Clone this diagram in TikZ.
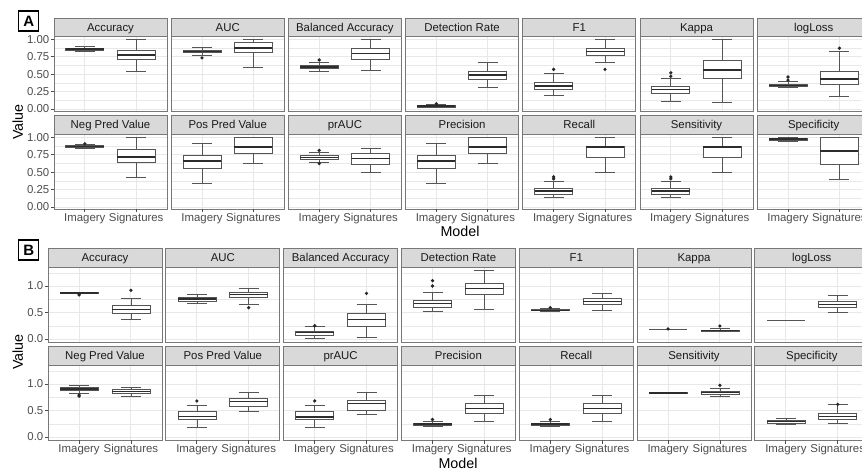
\documentclass[tikz,border=0pt]{standalone}
\usepackage{fontspec}
\setmainfont{Liberation Sans}
\definecolor{bxc}{RGB}{85,85,85}
\definecolor{medc}{RGB}{45,45,45}
\definecolor{gridc}{RGB}{232,232,232}
\definecolor{brd}{RGB}{120,120,120}
\definecolor{stripc}{RGB}{217,217,217}
\definecolor{tickc}{RGB}{77,77,77}
\definecolor{txtdark}{RGB}{26,26,26}
\tikzset{
  wsk/.style={draw=bxc, line width=0.8pt},
  bxs/.style={draw=bxc, fill=white, line width=0.8pt},
  medl/.style={draw=medc, line width=1.6pt},
  olc/.style={fill=black!85},
  gmaj/.style={draw=gridc, line width=0.9pt},
  gmin/.style={draw=gridc, line width=0.45pt},
  pborder/.style={draw=brd, line width=0.9pt},
  stripbox/.style={fill=stripc, draw=brd, line width=0.9pt},
  striptxt/.style={font=\fontsize{11.4}{13}\selectfont, text=txtdark, inner sep=0pt, anchor=base},
  ticktxt/.style={font=\fontsize{11.4}{13}\selectfont, text=tickc, inner sep=0pt},
  tickmark/.style={draw=tickc, line width=0.8pt},
  axtitle/.style={font=\fontsize{14.3}{16}\selectfont, text=black, inner sep=0pt, anchor=base},
  lblbox/.style={draw=black, line width=1.2pt, minimum size=20pt, inner sep=0pt, font=\bfseries\fontsize{15}{16}\selectfont}
}
\newcommand\ZZ{0}
\newcommand\SC{1}
\newcommand\setrow[2]{\renewcommand\ZZ{#1}\renewcommand\SC{#2}}
\newcommand\curmaj{0}
\newcommand\curmin{0}
\newcommand\CWd{10}
\newcommand\BWd{19}
% boxplot: cx, lower whisker, q1, median, q3, upper whisker
\newcommand\BXP[6]{%
  \draw[wsk] (#1,{\ZZ-\SC*#2}) -- (#1,{\ZZ-\SC*#3});
  \draw[wsk] (#1,{\ZZ-\SC*#5}) -- (#1,{\ZZ-\SC*#6});
  \draw[wsk] ({#1-\CWd},{\ZZ-\SC*#2}) -- ({#1+\CWd},{\ZZ-\SC*#2});
  \draw[wsk] ({#1-\CWd},{\ZZ-\SC*#6}) -- ({#1+\CWd},{\ZZ-\SC*#6});
  \draw[bxs] ({#1-\BWd},{\ZZ-\SC*#3}) rectangle ({#1+\BWd},{\ZZ-\SC*#5});
  \draw[medl] ({#1-\BWd},{\ZZ-\SC*#4}) -- ({#1+\BWd},{\ZZ-\SC*#4});
}
\newcommand\OLP[2]{\fill[olc] (#1,{\ZZ-\SC*#2}) circle (1.8pt);}
\newcommand\FLATB[2]{\draw[wsk] ({#1-\BWd},{\ZZ-\SC*#2}) -- ({#1+\BWd},{\ZZ-\SC*#2});}
% panel: L, w, stripTop, bodyTop, bodyBot, title, name
\newcommand\PNL[7]{%
  \fill[white] (#1,#4) rectangle ({#1+#2},#5);
  \foreach \v in \curmin {\draw[gmin] (#1,{\ZZ-\SC*\v}) -- ({#1+#2},{\ZZ-\SC*\v});}
  \foreach \v in \curmaj {\draw[gmaj] (#1,{\ZZ-\SC*\v}) -- ({#1+#2},{\ZZ-\SC*\v});}
  \draw[gmaj] ({#1+0.2727*#2},#4) -- ({#1+0.2727*#2},#5);
  \draw[gmaj] ({#1+0.7273*#2},#4) -- ({#1+0.7273*#2},#5);
  \draw[stripbox] (#1,#3) rectangle ({#1+#2},#4);
  \node[striptxt] (#7) at ({#1+#2/2},{(#3+#4)/2+4.2}) {#6};
}
\begin{document}
\begin{tikzpicture}[x=1pt,y=-1pt]
\useasboundingbox (0,0) rectangle (862,470);
\clip (0,0) rectangle (862,470);
\fill[white] (0,0) rectangle (862,470);

% ================= PANEL A =================
\node[lblbox] (labA) at (28.8,21) {A};
\renewcommand\curmaj{0,0.25,0.5,0.75,1}
\renewcommand\curmin{0.125,0.375,0.625,0.875}
% row 1
\setrow{109}{69.5}
\foreach \t [count=\i from 0] in {Accuracy,AUC,Balanced Accuracy,Detection Rate,F1,Kappa,logLoss}{
  \pgfmathsetmacro\LL{54+117.2*\i}
  \PNL{\LL}{113}{18}{36}{111}{\t}{sa1-\i}
}
\BXP{84.8}{0.83}{0.84}{0.86}{0.875}{0.90}
\BXP{136.2}{0.546}{0.707}{0.78}{0.846}{1.0}
\BXP{202}{0.768}{0.81}{0.826}{0.845}{0.89} \OLP{202}{0.735}
\BXP{253.4}{0.60}{0.81}{0.88}{0.952}{1.0}
\BXP{319.2}{0.546}{0.585}{0.605}{0.623}{0.67} \OLP{319.2}{0.705}
\BXP{370.6}{0.556}{0.72}{0.797}{0.875}{1.0}
\BXP{436.4}{0.025}{0.03}{0.04}{0.05}{0.068} \OLP{436.4}{0.075}
\BXP{487.8}{0.31}{0.43}{0.49}{0.546}{0.667}
\BXP{553.6}{0.19}{0.287}{0.333}{0.38}{0.507} \OLP{553.6}{0.57}
\BXP{605}{0.672}{0.768}{0.826}{0.875}{1.0} \OLP{605}{0.57}
\BXP{670.8}{0.116}{0.23}{0.28}{0.33}{0.445} \OLP{670.8}{0.47} \OLP{670.8}{0.52}
\BXP{722.2}{0.093}{0.44}{0.56}{0.70}{1.0}
\BXP{788}{0.305}{0.32}{0.34}{0.36}{0.40} \OLP{788}{0.415} \OLP{788}{0.46}
\BXP{839.4}{0.18}{0.355}{0.435}{0.546}{0.826} \OLP{839.4}{0.875}
\foreach \i in {0,...,6}{
  \pgfmathsetmacro\LL{54+117.2*\i}
  \draw[pborder] (\LL,36) rectangle ({\LL+113},111);
}
\foreach \v/\lab [count=\k] in {0/0.00,0.25/0.25,0.5/0.50,0.75/0.75,1/1.00}{
  \draw[tickmark] (50.5,{\ZZ-\SC*\v}) -- (54,{\ZZ-\SC*\v});
  \node[ticktxt, anchor=east] (ya1-\k) at (49.5,{\ZZ-\SC*\v}) {\lab};
}
% row 2
\setrow{207}{69.5}
\foreach \t [count=\i from 0] in {Neg Pred Value,Pos Pred Value,prAUC,Precision,Recall,Sensitivity,Specificity}{
  \pgfmathsetmacro\LL{54+117.2*\i}
  \PNL{\LL}{113}{115}{134}{209}{\t}{sa2-\i}
}
\BXP{84.8}{0.85}{0.857}{0.87}{0.88}{0.895} \OLP{84.8}{0.91}
\BXP{136.2}{0.433}{0.64}{0.72}{0.824}{1.0}
\BXP{202}{0.338}{0.562}{0.662}{0.743}{0.914}
\BXP{253.4}{0.624}{0.776}{0.862}{1.0}{1.0}
\BXP{319.2}{0.648}{0.686}{0.714}{0.743}{0.786} \OLP{319.2}{0.624} \OLP{319.2}{0.814}
\BXP{370.6}{0.495}{0.614}{0.695}{0.77}{0.838}
\BXP{436.4}{0.338}{0.562}{0.662}{0.743}{0.914}
\BXP{487.8}{0.624}{0.776}{0.862}{1.0}{1.0}
\BXP{553.6}{0.133}{0.18}{0.229}{0.262}{0.367} \OLP{553.6}{0.405} \OLP{553.6}{0.433}
\BXP{605}{0.505}{0.72}{0.862}{0.871}{1.0}
\BXP{670.8}{0.133}{0.18}{0.229}{0.262}{0.367} \OLP{670.8}{0.405} \OLP{670.8}{0.433}
\BXP{722.2}{0.505}{0.72}{0.862}{0.871}{1.0}
\BXP{788}{0.95}{0.957}{0.976}{0.986}{1.0}
\BXP{839.4}{0.40}{0.61}{0.81}{1.0}{1.0}
\foreach \i in {0,...,6}{
  \pgfmathsetmacro\LL{54+117.2*\i}
  \draw[pborder] (\LL,134) rectangle ({\LL+113},209);
  \pgfmathsetmacro\CI{\LL+0.2727*113}
  \pgfmathsetmacro\CS{\LL+0.7273*113}
  \draw[tickmark] (\CI,209) -- (\CI,212.5);
  \draw[tickmark] (\CS,209) -- (\CS,212.5);
  \node[ticktxt, anchor=base] (xa-\i-i) at (\CI,222) {Imagery};
  \node[ticktxt, anchor=base] (xa-\i-s) at (\CS,222) {Signatures};
}
\foreach \v/\lab [count=\k] in {0/0.00,0.25/0.25,0.5/0.50,0.75/0.75,1/1.00}{
  \draw[tickmark] (50.5,{\ZZ-\SC*\v}) -- (54,{\ZZ-\SC*\v});
  \node[ticktxt, anchor=east] (ya2-\k) at (49.5,{\ZZ-\SC*\v}) {\lab};
}
\node[axtitle] (modelA) at (460,236.5) {Model};
\node[axtitle, rotate=90] (valueA) at (23,122) {Value};

% ================= PANEL B =================
\node[lblbox] (labB) at (28.8,250) {B};
\renewcommand\curmaj{0,0.5,1}
\renewcommand\curmin{0.25,0.75,1.25}
% row 1
\setrow{339}{53}
\foreach \t [count=\i from 0] in {Accuracy,AUC,Balanced Accuracy,Detection Rate,F1,Kappa,logLoss}{
  \pgfmathsetmacro\LL{48+117.8*\i}
  \PNL{\LL}{114}{248}{267}{342}{\t}{sb1-\i}
}
\BXP{79.1}{0.855}{0.86}{0.87}{0.878}{0.885} \OLP{79.1}{0.83} \OLP{79.1}{0.845}
\BXP{130.9}{0.37}{0.484}{0.553}{0.64}{0.767} \OLP{130.9}{0.918}
\BXP{196.9}{0.67}{0.717}{0.755}{0.79}{0.85}
\BXP{248.7}{0.66}{0.78}{0.836}{0.88}{0.956} \OLP{248.7}{0.59}
\BXP{314.7}{0.013}{0.075}{0.12}{0.15}{0.23} \OLP{314.7}{0.25}
\BXP{366.5}{0.025}{0.24}{0.37}{0.48}{0.655} \OLP{366.5}{0.86}
\BXP{432.5}{0.52}{0.60}{0.67}{0.73}{0.88} \OLP{432.5}{1.0} \OLP{432.5}{1.1}
\BXP{484.3}{0.56}{0.84}{0.955}{1.05}{1.295}
\BXP{550.3}{0.53}{0.535}{0.54}{0.55}{0.57} \OLP{550.3}{0.59}
\BXP{602.1}{0.547}{0.655}{0.71}{0.767}{0.86}
\FLATB{668.1}{0.19} \OLP{668.1}{0.19}
\BXP{719.9}{0.14}{0.148}{0.157}{0.165}{0.2} \OLP{719.9}{0.245}
\FLATB{785.9}{0.345}
\BXP{837.7}{0.50}{0.60}{0.65}{0.70}{0.82}
\foreach \i in {0,...,6}{
  \pgfmathsetmacro\LL{48+117.8*\i}
  \draw[pborder] (\LL,267) rectangle ({\LL+114},342);
}
\foreach \v/\lab [count=\k] in {0/0.0,0.5/0.5,1/1.0}{
  \draw[tickmark] (44.5,{\ZZ-\SC*\v}) -- (48,{\ZZ-\SC*\v});
  \node[ticktxt, anchor=east] (yb1-\k) at (43.5,{\ZZ-\SC*\v}) {\lab};
}
% row 2
\setrow{437}{53}
\foreach \t [count=\i from 0] in {Neg Pred Value,Pos Pred Value,prAUC,Precision,Recall,Sensitivity,Specificity}{
  \pgfmathsetmacro\LL{48+117.8*\i}
  \PNL{\LL}{114}{346}{365}{440}{\t}{sb2-\i}
}
\BXP{79.1}{0.83}{0.88}{0.905}{0.93}{0.975} \OLP{79.1}{0.77} \OLP{79.1}{0.79}
\BXP{130.9}{0.775}{0.83}{0.855}{0.89}{0.93}
\BXP{196.9}{0.175}{0.34}{0.39}{0.477}{0.60} \OLP{196.9}{0.68}
\BXP{248.7}{0.485}{0.58}{0.667}{0.72}{0.84}
\BXP{314.7}{0.175}{0.34}{0.377}{0.477}{0.60} \OLP{314.7}{0.68}
\BXP{366.5}{0.43}{0.51}{0.635}{0.69}{0.84}
\BXP{432.5}{0.195}{0.214}{0.24}{0.264}{0.30} \OLP{432.5}{0.33}
\BXP{484.3}{0.29}{0.453}{0.54}{0.64}{0.79}
\BXP{550.3}{0.195}{0.214}{0.24}{0.264}{0.30} \OLP{550.3}{0.33}
\BXP{602.1}{0.29}{0.453}{0.54}{0.64}{0.79}
\BXP{668.1}{0.815}{0.825}{0.83}{0.835}{0.845}
\BXP{719.9}{0.775}{0.805}{0.843}{0.868}{0.92} \OLP{719.9}{0.975}
\BXP{785.9}{0.24}{0.264}{0.29}{0.315}{0.35}
\BXP{837.7}{0.264}{0.333}{0.39}{0.453}{0.615} \OLP{837.7}{0.615}
\foreach \i in {0,...,6}{
  \pgfmathsetmacro\LL{48+117.8*\i}
  \draw[pborder] (\LL,365) rectangle ({\LL+114},440);
  \pgfmathsetmacro\CI{\LL+0.2727*114}
  \pgfmathsetmacro\CS{\LL+0.7273*114}
  \draw[tickmark] (\CI,440) -- (\CI,443.5);
  \draw[tickmark] (\CS,440) -- (\CS,443.5);
  \node[ticktxt, anchor=base] (xb-\i-i) at (\CI,452.5) {Imagery};
  \node[ticktxt, anchor=base] (xb-\i-s) at (\CS,452.5) {Signatures};
}
\foreach \v/\lab [count=\k] in {0/0.0,0.5/0.5,1/1.0}{
  \draw[tickmark] (44.5,{\ZZ-\SC*\v}) -- (48,{\ZZ-\SC*\v});
  \node[ticktxt, anchor=east] (yb2-\k) at (43.5,{\ZZ-\SC*\v}) {\lab};
}
\node[axtitle] (modelB) at (458,468) {Model};
\node[axtitle, rotate=90] (valueB) at (23,352) {Value};
\end{tikzpicture}
\end{document}
